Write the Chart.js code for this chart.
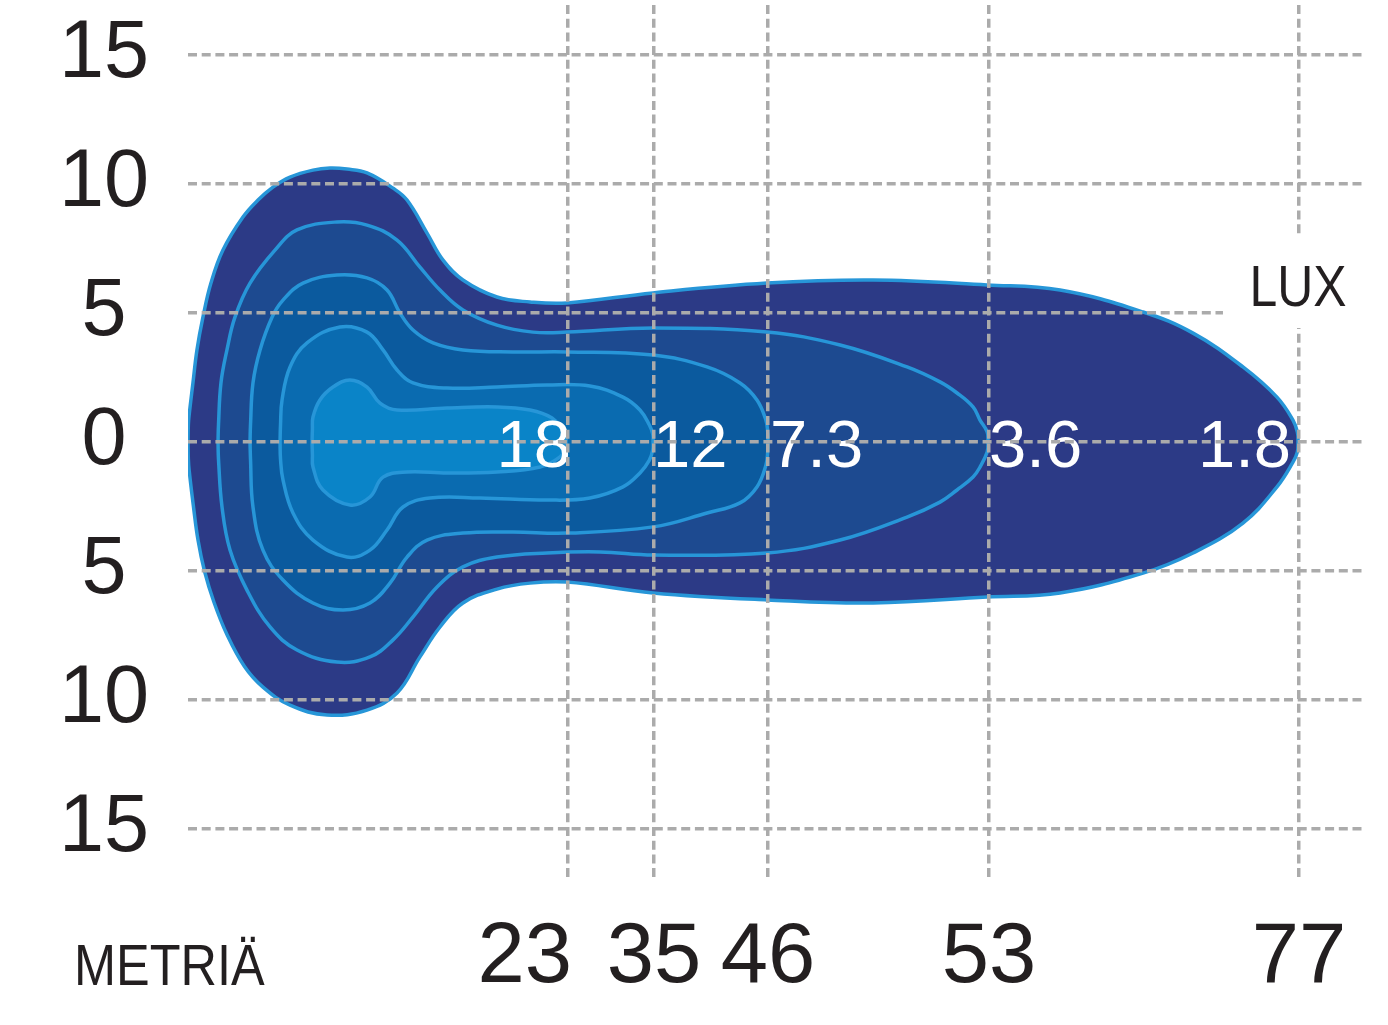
<!DOCTYPE html>
<html>
<head>
<meta charset="utf-8">
<title>Isolux</title>
<script src="https://cdn.jsdelivr.net/npm/chart.js@4.4.1/dist/chart.umd.min.js"></script>
<style>
  html, body { margin: 0; padding: 0; background: #ffffff; }
  canvas { display: block; }
</style>
</head>
<body>
<canvas id="c" width="1388" height="1025" style="width:1388px;height:1025px"></canvas>
<script>
// ---------- data ----------
const luxLevels = ['1.8', '3.6', '7.3', '12', '18'];
const distanceLabels = [23, 35, 46, 53, 77];                 // metres (tick labels)
const distancePositions = [32.29, 39.59, 49.28, 68.05, 94.39]; // where they sit on the relative axis
const widthTicks = [-15, -10, -5, 0, 5, 10, 15];
const axisTitleX = 'METRIÄ';
const unitTitle = 'LUX';

// contour outlines: [relative distance, lateral metres]; top edge left->right, bottom edge left->right
const lux1_8Top = [[0,0],[0.03,0.66],[0.08,0.97],[0.42,2.29],[0.76,3.57],[1.27,4.84],[1.95,6.16],[2.97,7.44],[4.67,8.72],[5.95,9.38],[7.22,9.88],[8.67,10.27],[10.62,10.54],[12.06,10.62],[13.51,10.58],[15.21,10.43],[17.42,9.84],[18.61,9.38],[20.31,8.10],[21.67,7.05],[23.36,6.28],[26.25,5.62],[29.06,5.43],[32.20,5.39],[39.51,5.78],[49.19,6.16],[58.20,6.28],[67.88,6.09],[74.09,5.89],[81.14,5.04],[85.39,4.22],[89.63,2.91],[92.52,1.74],[93.88,0.85],[94.25,0.39],[94.31,0]];
const lux1_8Bottom = [[0.03,-0.66],[0.10,-1.10],[0.45,-2.45],[0.85,-3.80],[1.40,-5.00],[2.20,-6.20],[3.30,-7.45],[4.80,-8.70],[6.37,-9.50],[8.67,-10.20],[11.81,-10.58],[15.21,-10.39],[17.76,-9.73],[19.71,-8.33],[21.41,-7.17],[23.36,-6.24],[26.25,-5.70],[29.06,-5.47],[32.20,-5.43],[39.51,-5.85],[49.19,-6.12],[58.20,-6.24],[67.88,-6.01],[74.09,-5.85],[81.14,-5.08],[85.39,-4.30],[89.63,-3.14],[92.52,-1.74],[93.88,-0.78],[94.25,-0.39]];

const lux3_6Top = [[2.55,0],[2.59,0.66],[2.80,2.29],[3.31,3.57],[3.99,4.84],[5.27,6.16],[7.39,7.44],[9.26,8.22],[12.66,8.53],[15.21,8.41],[17.76,7.83],[19.71,6.78],[21.41,5.89],[23.36,5.12],[26.25,4.53],[29.31,4.26],[32.20,4.26],[39.51,4.42],[49.19,4.26],[55.40,3.76],[61.09,2.91],[63.89,2.33],[65.34,1.90],[66.70,1.36],[67.29,0.85],[67.90,0.39],[67.97,0]];
const lux3_6Bottom = [[2.59,-0.66],[2.89,-2.52],[3.57,-4.19],[5.01,-5.74],[6.97,-7.17],[9.26,-8.06],[12.66,-8.53],[15.46,-8.33],[17.42,-7.67],[19.12,-6.78],[21.16,-5.62],[23.36,-4.84],[26.25,-4.46],[30.50,-4.30],[35.00,-4.26],[39.51,-4.38],[49.19,-4.30],[55.40,-3.80],[61.09,-2.91],[63.89,-2.33],[65.34,-1.86],[66.70,-1.36],[67.29,-0.97],[67.90,-0.39]];

const lux7_3Top = [[5.27,0],[5.31,0.66],[5.52,2.29],[6.12,3.57],[7.14,4.84],[8.07,5.50],[9.77,6.16],[12.66,6.47],[15.21,6.36],[16.91,5.89],[18.01,5.00],[19.12,4.34],[20.82,3.84],[23.36,3.57],[27.61,3.49],[32.20,3.49],[39.51,3.37],[44.10,2.91],[46.90,2.29],[48.34,1.63],[49.10,0.85],[49.26,0.35],[49.28,0]];
const lux7_3Bottom = [[5.31,-0.66],[5.52,-2.52],[6.37,-4.19],[8.07,-5.35],[10.62,-6.24],[13.17,-6.51],[15.46,-6.24],[17.16,-5.47],[18.61,-4.46],[20.31,-3.80],[23.36,-3.53],[27.61,-3.49],[32.20,-3.53],[39.51,-3.29],[44.10,-2.75],[46.90,-2.36],[48.34,-1.74],[49.10,-0.90],[49.26,-0.35]];

const lux12Top = [[7.82,0],[7.86,0.66],[7.99,1.63],[8.67,2.91],[10.11,3.84],[12.91,4.46],[15.21,4.26],[16.57,3.57],[17.76,2.79],[19.12,2.29],[22.01,2.09],[26.25,2.13],[30.50,2.21],[34.15,2.17],[36.96,1.74],[38.40,1.24],[39.20,0.66],[39.49,0.30],[39.51,0]];
const lux12Bottom = [[7.86,-0.66],[8.07,-1.47],[8.92,-2.75],[10.62,-3.80],[13.51,-4.46],[15.46,-4.19],[16.91,-3.41],[18.27,-2.52],[20.56,-2.17],[24.81,-2.17],[30.50,-2.25],[34.15,-2.17],[36.96,-1.74],[38.40,-1.20],[39.20,-0.70],[39.49,-0.30]];

const lux18Top = [[10.54,0],[10.57,0.50],[10.62,0.97],[11.21,1.63],[12.32,2.13],[13.76,2.40],[15.21,2.13],[16.31,1.51],[17.76,1.24],[22.01,1.32],[26.25,1.36],[29.06,1.24],[30.93,0.93],[31.78,0.47],[32.10,0.20],[32.12,0]];
const lux18Bottom = [[10.57,-0.50],[10.62,-0.97],[11.47,-1.86],[13.76,-2.44],[15.46,-2.13],[16.57,-1.36],[18.61,-1.16],[22.01,-1.20],[26.25,-1.16],[29.91,-0.97],[31.61,-0.58],[32.10,-0.20]];

const contourTops = [lux1_8Top, lux3_6Top, lux7_3Top, lux12Top, lux18Top];
const contourBottoms = [lux1_8Bottom, lux3_6Bottom, lux7_3Bottom, lux12Bottom, lux18Bottom];

// ---------- styles ----------
const fillColors = ['#2C3A86', '#1D4A90', '#0B5A9E', '#0A6BB0', '#0A84C8'];
const strokeColor = '#2796D8';
const gridColor = '#ABABAB';
const textColor = '#231F20';
const FONT = '"Liberation Sans", Arial, Helvetica, sans-serif';
const contourLabelStyle = [
  { align: 'right', dx: -7 },
  { align: 'left', dx: 1 },
  { align: 'left', dx: 2 },
  { align: 'left', dx: 0 },
  { align: 'right', dx: 5 }
];
const distanceLabelStyle = [
  { align: 'right', dx: 4 },
  { align: 'center', dx: 0 },
  { align: 'center', dx: 0 },
  { align: 'center', dx: 0 },
  { align: 'center', dx: 0 }
];

function closedOutline(top, bottom) {
  const pts = top.concat(bottom.slice().reverse(), [top[0]]);
  return pts.map(p => ({ x: p[0], y: p[1] }));
}

const datasets = luxLevels.map((lvl, i) => ({
  label: lvl + ' lux',
  data: closedOutline(contourTops[i], contourBottoms[i]),
  showLine: true,
  fill: 'shape',
  backgroundColor: fillColors[i],
  borderColor: strokeColor,
  borderWidth: 3.5,
  pointRadius: 0,
  pointHoverRadius: 0,
  tension: 0.4,
  order: luxLevels.length - i
}));

const textPlugin = {
  id: 'isoText',
  afterDatasetsDraw(chart) {
    const { ctx, scales: { x, y } } = chart;
    ctx.save();
    ctx.fillStyle = '#ffffff';
    ctx.font = '67px ' + FONT;
    ctx.textBaseline = 'alphabetic';
    luxLevels.forEach((lvl, i) => {
      const tip = contourTops[i][contourTops[i].length - 1];
      const st = contourLabelStyle[i];
      ctx.textAlign = st.align;
      ctx.fillText(lvl, x.getPixelForValue(tip[0]) + st.dx, y.getPixelForValue(tip[1]) + 25);
    });
    ctx.restore();
  },
  afterDraw(chart) {
    const { ctx, chartArea, scales: { x, y } } = chart;
    ctx.save();
    // distance labels
    ctx.fillStyle = textColor;
    ctx.font = '85px ' + FONT;
    ctx.textBaseline = 'alphabetic';
    const base = chartArea.bottom + 104;
    distanceLabels.forEach((lab, i) => {
      const st = distanceLabelStyle[i];
      ctx.textAlign = st.align;
      ctx.fillText(String(lab), x.getPixelForValue(distancePositions[i]) + st.dx, base);
    });
    // METRIÄ
    ctx.save();
    ctx.font = '58px ' + FONT;
    ctx.textAlign = 'left';
    ctx.translate(74, base + 3);
    ctx.scale(0.87, 1);
    ctx.fillText(axisTitleX, 0, 0);
    ctx.restore();
    // LUX with backdrop
    const lx = x.getPixelForValue(distancePositions[distancePositions.length - 1]);
    const lb = y.getPixelForValue(5) - 7;
    ctx.fillStyle = '#ffffff';
    ctx.fillRect(lx - 76, lb - 69, chartArea.right + 10 - (lx - 76), 91);
    ctx.fillStyle = textColor;
    ctx.save();
    ctx.font = '58px ' + FONT;
    ctx.textAlign = 'center';
    ctx.translate(lx - 1, lb);
    ctx.scale(0.86, 1);
    ctx.fillText(unitTitle, 0, 0);
    ctx.restore();
    ctx.restore();
  }
};

const gridOpts = { color: gridColor, lineWidth: 3.5, drawTicks: false, z: 1 };
const borderOpts = { display: false, dash: [9, 4.7] };

new Chart(document.getElementById('c').getContext('2d'), {
  type: 'scatter',
  data: { datasets },
  options: {
    responsive: false,
    animation: false,
    devicePixelRatio: 1,
    layout: { padding: { top: 5, right: 23, left: 0, bottom: 0 } },
    plugins: { legend: { display: false }, tooltip: { enabled: false } },
    events: [],
    scales: {
      x: {
        type: 'linear',
        min: 0,
        max: 100,
        afterBuildTicks: s => { s.ticks = distancePositions.map(v => ({ value: v })); },
        ticks: { display: false },
        grid: gridOpts,
        border: borderOpts,
        afterFit: s => { s.height = 147; s.paddingLeft = 0; s.paddingRight = 0; }
      },
      y: {
        type: 'linear',
        min: -16.9,
        max: 16.94,
        afterBuildTicks: s => { s.ticks = widthTicks.map(v => ({ value: v })); },
        ticks: {
          autoSkip: false,
          callback: v => String(Math.abs(v)),
          font: { family: FONT, size: 81 },
          color: textColor,
          crossAlign: 'center',
          padding: 39
        },
        grid: gridOpts,
        border: borderOpts,
        afterFit: s => { s.width = 188; s.paddingTop = 0; s.paddingBottom = 0; }
      }
    }
  },
  plugins: [textPlugin]
});
</script>
</body>
</html>
